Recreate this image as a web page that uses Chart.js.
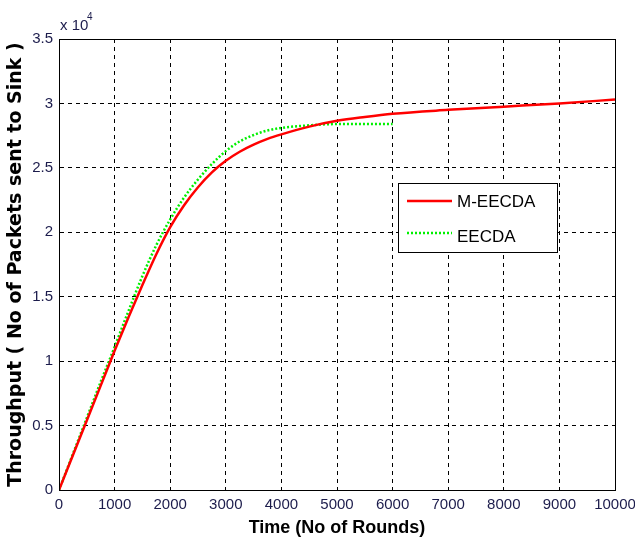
<!DOCTYPE html>
<html>
<head>
<meta charset="utf-8">
<script src="https://cdn.jsdelivr.net/npm/chart.js@4"></script>
<style>
  html, body { margin: 0; padding: 0; background: #fff; }
  #wrap { width: 635px; height: 543px; position: relative; }
</style>
</head>
<body>
<div id="wrap"><canvas id="throughput-chart"></canvas></div>
<script>
// rounds on the x axis
const rounds = [0, 250, 500, 750, 1000, 1250, 1500, 1750, 2000, 2250, 2500, 2750, 3000, 3250, 3500, 3750, 4000, 4500, 5000, 5500, 6000, 7000, 8000, 9000, 10000];
const mEecdaPackets = [0, 2700, 5400, 8100, 10800, 13400, 15900, 18300, 20400, 22100, 23500, 24650, 25550, 26250, 26800, 27250, 27600, 28200, 28650, 28950, 29200, 29500, 29750, 30000, 30300];
const eecdaRounds = [0, 250, 500, 750, 1000, 1250, 1500, 1750, 2000, 2250, 2500, 2750, 3000, 3250, 3500, 3750, 4000, 4500, 5000, 5500, 6000];
const eecdaPackets = [0, 2800, 5600, 8400, 11100, 13900, 16600, 19000, 21000, 22700, 24100, 25300, 26300, 27050, 27550, 27900, 28100, 28300, 28400, 28400, 28400];
const yTicks = [0, 5000, 10000, 15000, 20000, 25000, 30000, 35000];

const tickFont = '"Liberation Sans Narrow", "Arial Narrow", Arial, sans-serif';
const toPoints = (xs, ys) => xs.map((x, i) => ({ x: x, y: ys[i] }));

// legend box drawn inside the plot, like the matlab one
const boxLegend = {
    id: 'boxLegend',
    afterDatasetsDraw(chart) {
        const ctx = chart.ctx;
        const x0 = 398, y0 = 183, w = 159, h = 69;
        ctx.save();
        ctx.fillStyle = '#fff';
        ctx.fillRect(x0, y0, w, h);
        ctx.strokeStyle = '#000';
        ctx.lineWidth = 1;
        ctx.strokeRect(x0 + 0.5, y0 + 0.5, w, h);
        ctx.font = '17px Arial, "Liberation Sans", sans-serif';
        ctx.textBaseline = 'middle';
        chart.data.datasets.forEach((ds, i) => {
            const ly = y0 + 18 + i * 32;
            ctx.strokeStyle = ds.borderColor;
            ctx.lineWidth = 2.5;
            ctx.setLineDash(ds.borderDash || []);
            ctx.beginPath();
            ctx.moveTo(x0 + 9, ly);
            ctx.lineTo(x0 + 54, ly);
            ctx.stroke();
            ctx.setLineDash([]);
            ctx.fillStyle = '#000';
            ctx.fillText(ds.label, x0 + 59, ly + 1 + i * 3);
        });
        // exponent label
        ctx.fillStyle = '#1c1c4c';
        ctx.font = '15px ' + tickFont;
        ctx.textBaseline = 'alphabetic';
        ctx.fillText('x 10', 60, 30);
        ctx.font = '10px ' + tickFont;
        ctx.fillText('4', 87, 20);
        ctx.restore();
    }
};

new Chart(document.getElementById('throughput-chart').getContext('2d'), {
    type: 'line',
    data: {
        datasets: [{
            label: 'M-EECDA',
            data: toPoints(rounds, mEecdaPackets),
            borderColor: '#ff0000',
            borderWidth: 2.5,
            pointRadius: 0,
            cubicInterpolationMode: 'monotone',
            fill: false
        }, {
            label: 'EECDA',
            data: toPoints(eecdaRounds, eecdaPackets),
            borderColor: '#00f000',
            borderWidth: 2.5,
            borderDash: [2, 2],
            pointRadius: 0,
            cubicInterpolationMode: 'monotone',
            fill: false
        }]
    },
    options: {
        responsive: true,
        maintainAspectRatio: false,
        animation: false,
        layout: { padding: { top: 39, right: 20, left: 0, bottom: 0 } },
        plugins: {
            legend: { display: false },
            tooltip: { enabled: false }
        },
        scales: {
            x: {
                type: 'linear',
                min: 0,
                max: 10000,
                afterFit: (scale) => { scale.height = 53; scale.paddingRight = 0; scale.paddingLeft = 0; },
                grid: {
                    color: '#000',
                    tickLength: 0
                },
                border: { display: true, color: '#000', width: 1, dash: [4, 4] },
                ticks: {
                    stepSize: 1000,
                    maxRotation: 0,
                    color: '#1c1c4c',
                    padding: 6,
                    font: { family: tickFont, size: 15 },
                    callback: (v) => String(v)
                },
                title: {
                    display: true,
                    text: 'Time (No of Rounds)',
                    color: '#000',
                    padding: { top: 1 },
                    font: { family: 'Arial, "Liberation Sans", sans-serif', size: 18, weight: 'bold' }
                }
            },
            y: {
                min: 0,
                max: 35000,
                afterFit: (scale) => { scale.width = 59; },
                afterBuildTicks: (scale) => { scale.ticks = yTicks.map(v => ({ value: v })); },
                grid: {
                    color: '#000',
                    tickLength: 0
                },
                border: { display: true, color: '#000', width: 1, dash: [4, 4] },
                ticks: {
                    color: '#1c1c4c',
                    padding: 6,
                    font: { family: tickFont, size: 15 },
                    callback: (v) => String(v / 10000)
                },
                title: {
                    display: true,
                    text: 'Throughput ( No of Packets sent to Sink )',
                    color: '#000',
                    padding: { top: 5, bottom: 5 },
                    font: { family: '"DejaVu Sans", sans-serif', size: 19, weight: 'bold', lineHeight: 1.2 }
                }
            }
        }
    },
    plugins: [boxLegend, {
        id: 'solidFrame',
        afterDraw(chart) {
            const a = chart.chartArea, ctx = chart.ctx;
            ctx.save();
            ctx.strokeStyle = '#000';
            ctx.lineWidth = 1;
            ctx.strokeRect(Math.round(a.left) + 0.5, Math.round(a.top) + 0.5, Math.round(a.right - a.left), Math.round(a.bottom - a.top));
            ctx.restore();
        }
    }]
});
</script>
</body>
</html>
